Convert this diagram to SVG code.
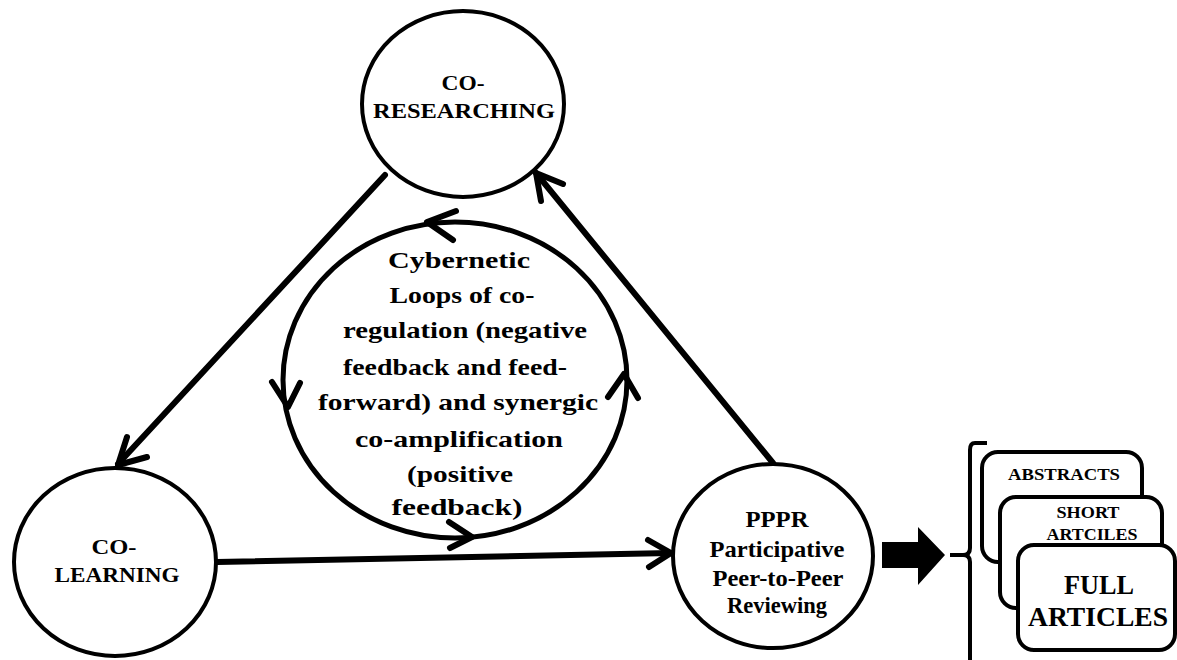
<svg xmlns="http://www.w3.org/2000/svg" width="1177" height="660" viewBox="0 0 1177 660">
<style>
.node{fill:#fff;stroke:#000;stroke-width:4}
.t{font-family:'Liberation Serif','DejaVu Serif','Times New Roman',Times,serif;font-weight:700;fill:#000;text-anchor:middle}
.ln{fill:none;stroke:#000;stroke-width:6;stroke-linecap:round;stroke-linejoin:round}
.box{fill:#fff;stroke:#000;stroke-width:4}
</style>
<rect width="1177" height="660" fill="#fff"/>
<g id="connectors">
<line class="ln" x1="385" y1="175" x2="118" y2="464"/>
<polyline class="ln" points="127,437 118,465 147,457"/>
<line class="ln" x1="217" y1="562" x2="671" y2="553"/>
<polyline class="ln" points="648,540 671,553 649,567"/>
<line class="ln" x1="773" y1="463" x2="536" y2="173"/>
<polyline class="ln" points="541,201 536,173 563,184"/>
</g>
<g id="loop">
<ellipse cx="455" cy="380" rx="172" ry="158" fill="none" stroke="#000" stroke-width="5"/>
<polyline class="ln" points="456,211 427,222 453,240" stroke-width="5"/>
<polyline class="ln" points="272,382 288,407 300,383" stroke-width="5"/>
<polyline class="ln" points="608,397 624,374 638,398" stroke-width="5"/>
<polyline class="ln" points="449,522 472,537 450,548" stroke-width="5"/>
<g class="t" font-size="24">
<text x="459" y="268" textLength="142" lengthAdjust="spacingAndGlyphs">Cybernetic</text>
<text x="462" y="303" textLength="145" lengthAdjust="spacingAndGlyphs">Loops of co-</text>
<text x="465" y="338" textLength="244" lengthAdjust="spacingAndGlyphs">regulation (negative</text>
<text x="455" y="375" textLength="224" lengthAdjust="spacingAndGlyphs">feedback and feed-</text>
<text x="458" y="410" textLength="280" lengthAdjust="spacingAndGlyphs">forward) and synergic</text>
<text x="459" y="447" textLength="208" lengthAdjust="spacingAndGlyphs">co-amplification</text>
<text x="460" y="482" textLength="106" lengthAdjust="spacingAndGlyphs">(positive</text>
<text x="457" y="515" textLength="131" lengthAdjust="spacingAndGlyphs">feedback)</text>
</g>
</g>
<g id="co-researching">
<ellipse class="node" cx="463" cy="104" rx="101" ry="93"/>
<text class="t" font-size="21" x="463" y="90" textLength="43" lengthAdjust="spacingAndGlyphs">CO-</text>
<text class="t" font-size="21" x="464" y="118" textLength="182" lengthAdjust="spacingAndGlyphs">RESEARCHING</text>
</g>
<g id="co-learning">
<ellipse class="node" cx="115" cy="562" rx="101" ry="94"/>
<text class="t" font-size="21" x="114" y="554" textLength="45" lengthAdjust="spacingAndGlyphs">CO-</text>
<text class="t" font-size="21" x="117" y="582" textLength="125" lengthAdjust="spacingAndGlyphs">LEARNING</text>
</g>
<g id="pppr">
<ellipse class="node" cx="773" cy="556" rx="100" ry="92"/>
<text class="t" font-size="23" x="777" y="527" textLength="63" lengthAdjust="spacingAndGlyphs">PPPR</text>
<text class="t" font-size="23" x="777" y="557" textLength="135" lengthAdjust="spacingAndGlyphs">Participative</text>
<text class="t" font-size="23" x="778" y="586" textLength="131" lengthAdjust="spacingAndGlyphs">Peer-to-Peer</text>
<text class="t" font-size="23" x="777" y="613" textLength="100" lengthAdjust="spacingAndGlyphs">Reviewing</text>
</g>
<g id="big-arrow">
<polygon points="882,542 918,542 918,527 945,555 918,585 918,568 882,568" fill="#000"/>
</g>
<g id="brace">
<path d="M987,443 L975,443 Q970,443 970,450 L970,548 Q970,555 963,555 L950,555 M963,555 Q970,555 970,562 L970,660" fill="none" stroke="#000" stroke-width="4"/>
</g>
<g id="abstracts">
<rect class="box" x="982" y="452" width="160" height="110" rx="16"/>
<text class="t" font-size="16" x="1064" y="480" textLength="112" lengthAdjust="spacingAndGlyphs">ABSTRACTS</text>
</g>
<g id="short-articles">
<rect class="box" x="1000" y="497" width="162" height="111" rx="16"/>
<text class="t" font-size="17" x="1088" y="518" textLength="63" lengthAdjust="spacingAndGlyphs">SHORT</text>
<text class="t" font-size="17" x="1092" y="540" textLength="91" lengthAdjust="spacingAndGlyphs">ARTCILES</text>
</g>
<g id="full-articles">
<rect class="box" x="1018" y="545" width="157" height="105" rx="16"/>
<text class="t" font-size="27" x="1099" y="594" textLength="70" lengthAdjust="spacingAndGlyphs">FULL</text>
<text class="t" font-size="27" x="1098" y="626" textLength="140" lengthAdjust="spacingAndGlyphs">ARTICLES</text>
</g>
</svg>
